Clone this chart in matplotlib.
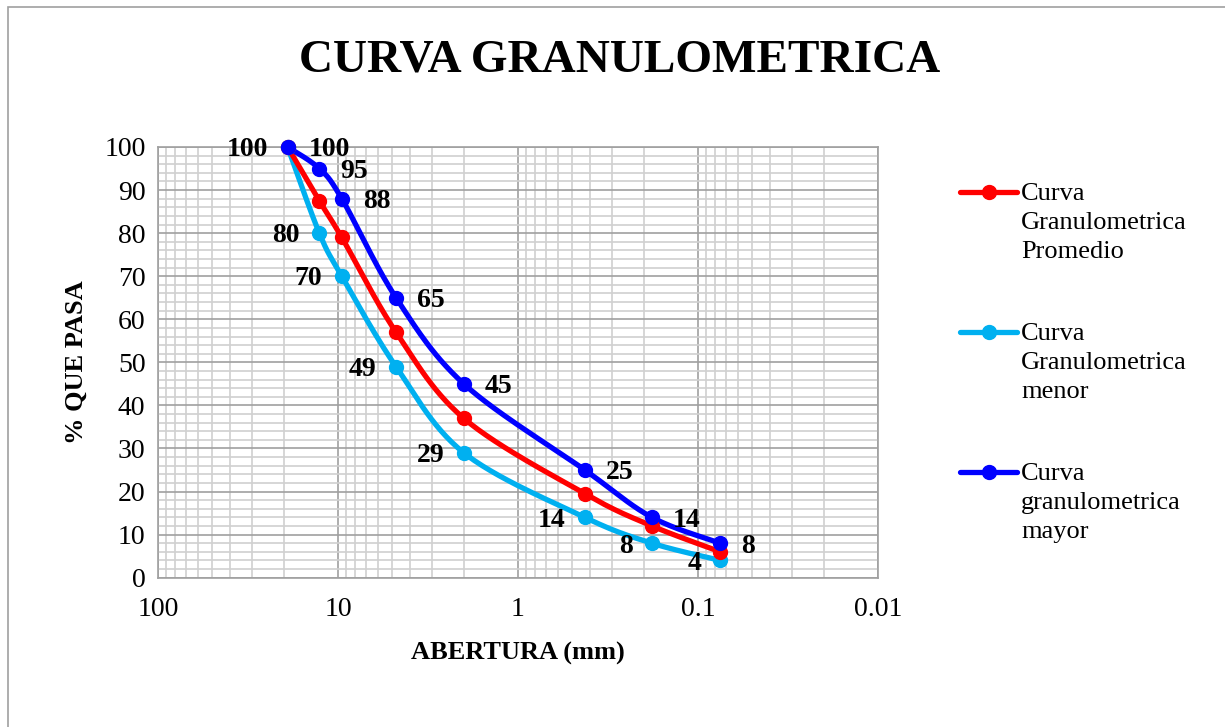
import numpy as np
import matplotlib
matplotlib.use("Agg")
import matplotlib.pyplot as plt
from matplotlib.lines import Line2D
from matplotlib.patches import Rectangle
from matplotlib.ticker import FixedLocator, NullFormatter

# ---- data ----
aberturas = [19.05, 12.7, 9.525, 4.76, 2.0, 0.425, 0.18, 0.075]
promedio = [100, 87.5, 79, 57, 37, 19.5, 12, 6]
menor = [100, 80, 70, 49, 29, 14, 8, 4]
mayor = [100, 95, 88, 65, 45, 25, 14, 8]
x_ticks = [100, 10, 1, 0.1, 0.01]
x_tick_labels = ["100", "10", "1", "0.1", "0.01"]
y_ticks = list(range(0, 101, 10))
series_names = ["Curva\nGranulometrica\nPromedio",
                "Curva\nGranulometrica\nmenor",
                "Curva\ngranulometrica\nmayor"]
series_colors = ["#ff0000", "#00b0f0", "#0000ff"]

plt.rcParams['font.family'] = ['Liberation Serif', 'DejaVu Serif']

W, H = 1225, 727
fig = plt.figure(figsize=(W / 100, H / 100), dpi=100)
ax = fig.add_axes([158 / W, 1 - 577.7 / H, 720 / W, (577.7 - 147) / H])

ax.set_xscale('log')
ax.set_xlim(100, 0.01)
ax.set_ylim(0, 100)

# grid
minor_x = [m * 10.0 ** e for e in range(-2, 2) for m in range(2, 10)]
ax.xaxis.set_minor_locator(FixedLocator(minor_x))
ax.xaxis.set_minor_formatter(NullFormatter())
ax.set_xticks(x_ticks)
ax.set_xticklabels(x_tick_labels)
ax.set_yticks(y_ticks)
ax.yaxis.set_minor_locator(FixedLocator(list(range(0, 101, 2))))
ax.grid(which='minor', color='#d0d0d0', lw=1.2)
ax.grid(which='major', color='#a0a0a0', lw=1.2)
ax.set_axisbelow(True)
ax.tick_params(which='both', length=0, labelsize=20, colors='black')
ax.tick_params(axis='x', pad=14)
ax.tick_params(axis='y', pad=9)
for s in ax.spines.values():
    s.set_color('#a0a0a0')
    s.set_linewidth(1.2)


def smooth(xs, ys, n=30):
    # Catmull-Rom style smoothing in display space (like Excel smoothed lines)
    pts = ax.transData.transform(np.column_stack([xs, ys]))
    out = [pts[0]]
    for i in range(len(pts) - 1):
        p0 = pts[i - 1] if i > 0 else pts[i]
        p1 = pts[i]
        p2 = pts[i + 1]
        p3 = pts[i + 2] if i + 2 < len(pts) else pts[i + 1]
        c1 = p1 + (p2 - p0) / 6.0
        c2 = p2 - (p3 - p1) / 6.0
        t = np.linspace(0, 1, n)[1:, None]
        seg = ((1 - t) ** 3) * p1 + 3 * ((1 - t) ** 2) * t * c1 + 3 * (1 - t) * t ** 2 * c2 + t ** 3 * p2
        out.extend(seg)
    out = np.array(out)
    d = ax.transData.inverted().transform(out)
    return d[:, 0], d[:, 1]


fig.canvas.draw()
for ys, col in [(menor, series_colors[1]), (promedio, series_colors[0]), (mayor, series_colors[2])]:
    sx, sy = smooth(aberturas, ys)
    ax.plot(sx, sy, color=col, lw=3.8, solid_capstyle='round', zorder=3)
    ax.plot(aberturas, ys, 'o', color=col, ms=10, zorder=4, clip_on=False)

# data labels
for xv, yv in zip(aberturas, mayor):
    ax.annotate(str(yv), (xv, yv), xytext=(15, -2), textcoords='offset points',
                ha='left', va='center', fontsize=20, fontweight='bold', zorder=5)
for xv, yv in zip(aberturas, menor):
    ax.annotate(str(yv), (xv, yv), xytext=(-14, -2), textcoords='offset points',
                ha='right', va='center', fontsize=20, fontweight='bold', zorder=5)

ax.set_xlabel("ABERTURA (mm)", fontsize=19, fontweight='bold', labelpad=14)
ax.set_ylabel("% QUE PASA", fontsize=19, fontweight='bold', labelpad=12)

fig.text(620 / W, 1 - 61 / H, "CURVA GRANULOMETRICA", ha='center', va='center',
         fontsize=34, fontweight='bold')

# legend (manual)
for i, (name, col) in enumerate(zip(series_names, series_colors)):
    yl = 1 - (192 + 140 * i) / H
    fig.add_artist(Line2D([960 / W, 1017 / W], [yl, yl], color=col, lw=3.8,
                          solid_capstyle='round', transform=fig.transFigure))
    fig.add_artist(Line2D([988.5 / W], [yl], marker='o', color=col, ms=10,
                          transform=fig.transFigure))
    fig.text(1021 / W, yl + 9 / H, name, ha='left', va='top', fontsize=19,
             linespacing=1.42)

# chart border (left and top visible)
fig.add_artist(Rectangle((8 / W, -0.1), 1.2, 1 - 7 / H + 0.1, fill=False,
                         edgecolor='#a0a0a0', lw=1.2, transform=fig.transFigure))

fig.savefig("out.png", dpi=100, facecolor='white')
